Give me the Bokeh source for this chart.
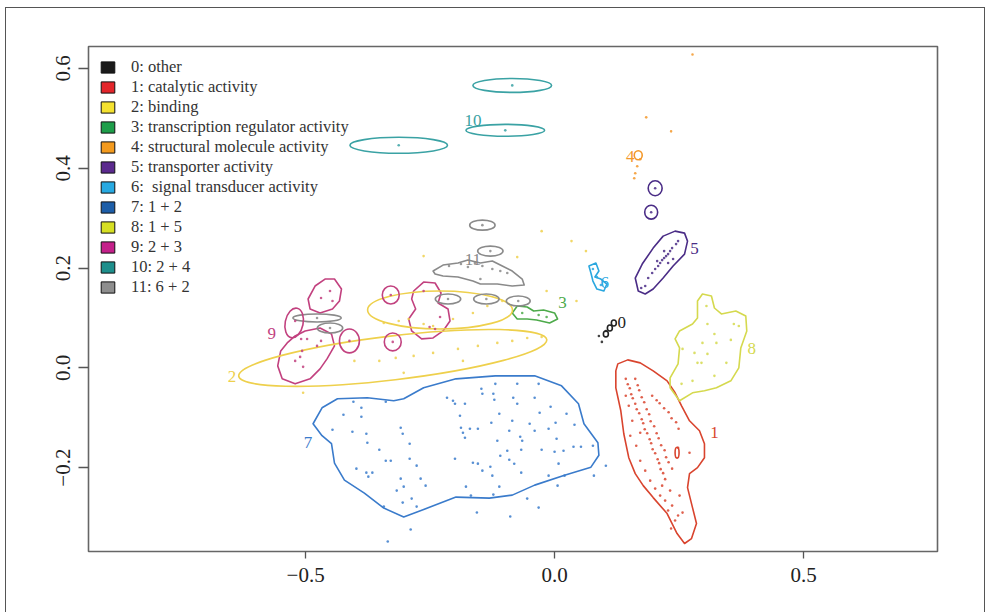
from bokeh.plotting import figure
from bokeh.models import Range1d, FixedTicker, Legend, LegendItem, ColumnDataSource, InlineStyleSheet
from bokeh.core.properties import value
from bokeh.embed import file_html
from bokeh.resources import INLINE

# ---------------- data ----------------
group_labels = ["0: other", "1: catalytic activity", "2: binding",
                "3: transcription regulator activity", "4: structural molecule activity",
                "5: transporter activity", "6:  signal transducer activity",
                "7: 1 + 2", "8: 1 + 5", "9: 2 + 3", "10: 2 + 4", "11: 6 + 2"]
legend_colors = ["#1a1a1a", "#e3262b", "#f4e12f", "#1e9e4a", "#f39a1e", "#5b2a8e",
                 "#27a9e1", "#1d5ea8", "#d6df23", "#c4208a", "#1e8f8c", "#8e8e8e"]
mark_colors = ["#222222", "#d9442e", "#eed04c", "#4daa4a", "#f3982a", "#4a2c86",
               "#2aa7df", "#3a7bcb", "#d5d94e", "#c2417f", "#3aa2a4", "#8a8a8a"]

x_ticks = [-0.5, 0.0, 0.5]
x_tick_labels = ["\u22120.5", "0.0", "0.5"]
y_ticks = [-0.2, 0.0, 0.2, 0.4, 0.6]
y_tick_labels = ["\u22120.2", "0.0", "0.2", "0.4", "0.6"]

# points per group
g0_x = [0.089, 0.095, 0.103]
g0_y = [0.064, 0.052, 0.074]
g1_x = [0.143, 0.147, 0.151, 0.154, 0.157, 0.162, 0.165, 0.170, 0.175, 0.178, 0.181, 0.186, 0.191, 0.194, 0.197, 0.202, 0.207, 0.210, 0.213, 0.218, 0.222,
        0.162, 0.167, 0.170, 0.175, 0.180, 0.185, 0.190, 0.193, 0.200, 0.205, 0.209, 0.214, 0.221, 0.224, 0.229, 0.236,
        0.196, 0.205, 0.211, 0.220, 0.229, 0.235, 0.244, 0.249,
        0.149, 0.156, 0.152, 0.164, 0.172, 0.182, 0.192, 0.202, 0.212, 0.222, 0.228, 0.236, 0.242, 0.248, 0.234, 0.257, 0.251, 0.232, 0.216, 0.271, 0.248, 0.172, 0.143]
g1_y = [-0.022, -0.033, -0.041, -0.053, -0.061, -0.072, -0.083, -0.091, -0.103, -0.111, -0.123, -0.131, -0.143, -0.151, -0.163, -0.171, -0.183, -0.191, -0.203, -0.211, -0.223,
        -0.022, -0.035, -0.045, -0.059, -0.069, -0.083, -0.093, -0.107, -0.117, -0.131, -0.141, -0.155, -0.165, -0.179, -0.189, -0.202,
        -0.056, -0.065, -0.071, -0.081, -0.089, -0.101, -0.109, -0.122,
        -0.076, -0.106, -0.136, -0.156, -0.186, -0.206, -0.226, -0.242, -0.256, -0.266, -0.286, -0.276, -0.306, -0.296, -0.322, -0.290, -0.256, -0.246, -0.236, -0.170, -0.160, -0.130, -0.056]
g2_x = [-0.343, -0.313, -0.293, -0.263, -0.244, -0.204, -0.164, -0.135, -0.105, -0.352, -0.319, -0.283, -0.244, -0.194, -0.154, -0.115,
        -0.085, -0.055, -0.026, -0.303, -0.402, -0.505, -0.263, -0.075, -0.026, 0.034, 0.063, -0.016, 0.044, -0.184]
g2_y = [0.090, 0.094, 0.098, 0.088, 0.084, 0.098, 0.110, 0.124, 0.134, 0.014, 0.020, 0.024, 0.030, 0.038, 0.044, 0.050,
        0.054, 0.060, 0.062, -0.010, 0.014, -0.050, 0.224, 0.222, 0.274, 0.254, 0.234, 0.154, 0.134, 0.014]
g3_x = [-0.065, -0.032, -0.016]
g3_y = [0.110, 0.106, 0.102]
g4_x = [0.277, 0.184, 0.234, 0.172, 0.166, 0.162, 0.160]
g4_y = [0.628, 0.502, 0.474, 0.418, 0.404, 0.390, 0.380]
g5_x = [0.188, 0.196, 0.202, 0.208, 0.212, 0.216, 0.220, 0.224, 0.228, 0.232, 0.236, 0.244, 0.248, 0.182, 0.174, 0.220, 0.238, 0.206, 0.228, 0.202, 0.194]
g5_y = [0.180, 0.190, 0.198, 0.204, 0.210, 0.216, 0.220, 0.224, 0.228, 0.234, 0.240, 0.248, 0.254, 0.164, 0.160, 0.234, 0.218, 0.214, 0.210, 0.360, 0.312]
g6_x = [0.077, 0.085, 0.093]
g6_y = [0.198, 0.182, 0.166]
g7_x = [-0.404, -0.424, -0.388, -0.388, -0.446, -0.406, -0.378, -0.376, -0.352, -0.339, -0.309, -0.305, -0.291, -0.339, -0.329, -0.291,
        -0.277, -0.398, -0.378, -0.366, -0.374, -0.309, -0.269, -0.259, -0.303, -0.317, -0.287, -0.305, -0.277, -0.343, -0.289, -0.335,
        -0.216, -0.204, -0.200, -0.180, -0.147, -0.145, -0.123, -0.121, -0.119, -0.075, -0.032, -0.083, -0.075, -0.040, -0.008, 0.024,
        -0.111, -0.085, -0.050, -0.030, 0.002, 0.040, -0.190, -0.188, -0.184, -0.180, -0.170, -0.154, -0.127, -0.091, -0.069, -0.065,
        -0.040, -0.012, 0.004, -0.115, -0.095, -0.067, -0.026, 0.000, 0.018, 0.038, 0.053, 0.077, -0.109, -0.091, -0.081, -0.067,
        0.008, -0.012, 0.020, 0.079, 0.103, 0.006, -0.055, -0.032, -0.089, -0.156, -0.168, -0.178, -0.145, -0.129, -0.125, -0.111,
        -0.123, -0.200, -0.164, -0.154]
g7_y = [-0.068, -0.094, -0.080, -0.098, -0.124, -0.128, -0.132, -0.150, -0.164, -0.068, -0.120, -0.132, -0.152, -0.186, -0.186, -0.182,
        -0.196, -0.202, -0.210, -0.210, -0.218, -0.222, -0.222, -0.236, -0.238, -0.246, -0.262, -0.270, -0.278, -0.278, -0.324, -0.348,
        -0.060, -0.066, -0.072, -0.072, -0.042, -0.052, -0.052, -0.064, -0.032, -0.032, -0.032, -0.060, -0.072, -0.060, -0.078, -0.092,
        -0.092, -0.106, -0.112, -0.090, -0.110, -0.114, -0.096, -0.120, -0.130, -0.140, -0.122, -0.122, -0.110, -0.126, -0.138, -0.146,
        -0.126, -0.122, -0.142, -0.146, -0.166, -0.164, -0.164, -0.168, -0.166, -0.158, -0.158, -0.156, -0.176, -0.184, -0.192, -0.210,
        -0.192, -0.216, -0.216, -0.216, -0.196, -0.236, -0.262, -0.280, -0.298, -0.290, -0.256, -0.238, -0.206, -0.198, -0.216, -0.238,
        -0.254, -0.182, -0.190, -0.192]
g8_x = [0.305, 0.307, 0.360, 0.370, 0.321, 0.297, 0.325, 0.354, 0.257, 0.281, 0.307, 0.287, 0.295, 0.345, 0.277, 0.321, 0.255]
g8_y = [0.124, 0.088, 0.088, 0.084, 0.068, 0.050, 0.050, 0.056, 0.038, 0.030, 0.028, 0.010, 0.010, 0.010, -0.026, -0.016, -0.032]
g9_x = [-0.451, -0.446, -0.469, -0.521, -0.509, -0.497, -0.507, -0.511, -0.521, -0.505, -0.477, -0.469, -0.412, -0.329, -0.325, -0.263, -0.251, -0.240, -0.230]
g9_y = [0.154, 0.134, 0.140, 0.094, 0.058, 0.058, 0.034, 0.022, 0.014, 0.002, 0.044, 0.054, 0.054, 0.146, 0.052, 0.154, 0.082, 0.078, 0.102]
g10_x = [-0.085, -0.099, -0.313]
g10_y = [0.566, 0.476, 0.446]
g11_x = [-0.212, -0.188, -0.174, -0.160, -0.145, -0.125, -0.109, -0.095, -0.149, -0.145, -0.129, -0.214, -0.137, -0.073, -0.477, -0.451]
g11_y = [0.204, 0.208, 0.202, 0.210, 0.204, 0.198, 0.194, 0.190, 0.178, 0.286, 0.234, 0.138, 0.138, 0.134, 0.100, 0.080]

# irregular contour outlines
c7_x = [-0.485, -0.467, -0.436, -0.376, -0.323, -0.303, -0.263, -0.198, -0.119, -0.040, 0.014, 0.048, 0.059, 0.087, 0.089, 0.073,
        0.020, -0.040, -0.085, -0.131, -0.198, -0.250, -0.303, -0.343, -0.382, -0.422, -0.442, -0.448, -0.467]
c7_y = [-0.112, -0.080, -0.062, -0.060, -0.066, -0.062, -0.040, -0.022, -0.016, -0.016, -0.036, -0.072, -0.112, -0.150, -0.175, -0.199,
        -0.215, -0.235, -0.255, -0.261, -0.259, -0.279, -0.299, -0.281, -0.251, -0.225, -0.191, -0.152, -0.136]
c1_x = [0.127, 0.147, 0.172, 0.198, 0.226, 0.242, 0.255, 0.271, 0.291, 0.301, 0.301, 0.287, 0.271, 0.267, 0.277, 0.285, 0.275, 0.261,
        0.246, 0.226, 0.198, 0.178, 0.162, 0.149, 0.139, 0.133, 0.123, 0.123]
c1_y = [0.008, 0.016, 0.010, -0.006, -0.026, -0.050, -0.076, -0.106, -0.126, -0.152, -0.180, -0.200, -0.212, -0.240, -0.280, -0.312, -0.342, -0.352,
        -0.332, -0.292, -0.260, -0.236, -0.212, -0.180, -0.132, -0.086, -0.040, -0.006]
c8_x = [0.297, 0.315, 0.321, 0.335, 0.364, 0.384, 0.386, 0.374, 0.370, 0.354, 0.325, 0.301, 0.277, 0.251, 0.232, 0.232, 0.248, 0.251, 0.242, 0.251, 0.277, 0.287, 0.287]
c8_y = [0.148, 0.144, 0.120, 0.108, 0.114, 0.104, 0.074, 0.040, 0.000, -0.026, -0.040, -0.046, -0.050, -0.066, -0.040, -0.020, 0.008, 0.040, 0.058, 0.074, 0.088, 0.100, 0.134]
c5_x = [0.168, 0.162, 0.176, 0.198, 0.218, 0.242, 0.261, 0.267, 0.261, 0.238, 0.218, 0.198, 0.182]
c5_y = [0.154, 0.180, 0.208, 0.240, 0.264, 0.274, 0.270, 0.254, 0.228, 0.204, 0.180, 0.158, 0.148]
c6_x = [0.069, 0.083, 0.089, 0.081, 0.093, 0.105, 0.099, 0.085, 0.077, 0.073]
c6_y = [0.204, 0.210, 0.194, 0.182, 0.178, 0.168, 0.154, 0.158, 0.174, 0.190]
c3_x = [-0.085, -0.075, -0.055, -0.042, -0.022, 0.000, 0.006, -0.010, -0.036, -0.055, -0.075]
c3_y = [0.110, 0.124, 0.122, 0.114, 0.116, 0.110, 0.098, 0.090, 0.096, 0.098, 0.098]
c11_x = [-0.244, -0.224, -0.194, -0.174, -0.149, -0.125, -0.105, -0.085, -0.065, -0.061, -0.085, -0.115, -0.149, -0.164, -0.194, -0.224, -0.240]
c11_y = [0.194, 0.206, 0.210, 0.216, 0.210, 0.214, 0.204, 0.194, 0.178, 0.166, 0.164, 0.168, 0.168, 0.174, 0.182, 0.184, 0.188]
c9a_x = [-0.481, -0.461, -0.442, -0.428, -0.432, -0.446, -0.471, -0.491, -0.495]
c9a_y = [0.164, 0.178, 0.178, 0.158, 0.134, 0.118, 0.110, 0.118, 0.138]
c9b_x = [-0.521, -0.501, -0.471, -0.448, -0.442, -0.457, -0.471, -0.491, -0.521, -0.547, -0.556, -0.550, -0.537]
c9b_y = [0.064, 0.074, 0.080, 0.068, 0.044, 0.018, -0.002, -0.022, -0.032, -0.022, 0.004, 0.034, 0.050]
c9c_x = [-0.283, -0.263, -0.240, -0.228, -0.234, -0.214, -0.210, -0.224, -0.244, -0.267, -0.287, -0.293, -0.279, -0.287]
c9c_y = [0.154, 0.172, 0.170, 0.150, 0.130, 0.118, 0.094, 0.074, 0.060, 0.058, 0.074, 0.098, 0.118, 0.138]

# elliptical contour outlines
ell_group = [2, 2, 10, 10, 10, 11, 11, 11, 11, 11, 11, 11, 9, 9, 9, 9, 5, 5, 4, 0, 0, 0, 1]
ell_x = [-0.230, -0.325, -0.085, -0.099, -0.313, -0.145, -0.129, -0.214, -0.137, -0.073, -0.477, -0.451,
         -0.523, -0.412, -0.329, -0.325, 0.202, 0.194, 0.168, 0.103, 0.111, 0.119, 0.246]
ell_y = [0.116, 0.020, 0.566, 0.476, 0.446, 0.286, 0.234, 0.138, 0.138, 0.134, 0.100, 0.080,
         0.090, 0.054, 0.146, 0.052, 0.360, 0.312, 0.426, 0.068, 0.080, 0.090, -0.170]
ell_w = [0.291, 0.623, 0.158, 0.158, 0.196, 0.051, 0.051, 0.051, 0.051, 0.048, 0.097, 0.051,
         0.036, 0.040, 0.034, 0.034, 0.028, 0.026, 0.016, 0.010, 0.010, 0.010, 0.008]
ell_h = [0.076, 0.088, 0.028, 0.024, 0.032, 0.020, 0.020, 0.020, 0.020, 0.020, 0.016, 0.020,
         0.060, 0.048, 0.036, 0.036, 0.030, 0.028, 0.018, 0.012, 0.012, 0.012, 0.022]
ell_angle = [0.0, 0.118, 0.0, 0.0, 0.0, 0.0, 0.0, 0.0, 0.0, 0.0, 0.0, 0.0,
             -0.2, 0.0, 0.0, 0.0, 0.0, 0.0, 0.0, 0.0, 0.0, 0.0, 0.0]

# contour labels
cl_text = ["0", "1", "2", "3", "4", "5", "6", "7", "8", "9", "10", "11"]
cl_x = [0.135, 0.321, -0.648, 0.016, 0.152, 0.281, 0.101, -0.495, 0.396, -0.568, -0.164, -0.164]
cl_y = [0.090, -0.130, -0.018, 0.130, 0.424, 0.240, 0.172, -0.150, 0.038, 0.068, 0.496, 0.218]

# ---------------- figure ----------------
SERIF = "Liberation Serif"
p = figure(width=973, height=598, output_backend="svg", toolbar_location=None,
           x_range=Range1d(-0.936, 0.769), y_range=Range1d(-0.368, 0.644),
           min_border_left=88, min_border_right=36, min_border_top=46, min_border_bottom=47)
# outer page frame (left, top, right sides) drawn by CSS, outside the chart layout
p.stylesheets = [InlineStyleSheet(css=(
    ":host::after{content:'';position:absolute;left:5px;top:7px;right:-12px;bottom:-14px;"
    "border-left:1px solid #555;border-top:1px solid #555;border-right:1px solid #555;"
    "pointer-events:none;}"))]
p.grid.visible = False
p.background_fill_color = "white"
p.border_fill_color = "white"
p.outline_line_color = "#666666"
p.outline_line_width = 1.6

for ax, ticks, labels, tick_out in [(p.xaxis[0], x_ticks, x_tick_labels, 7), (p.yaxis[0], y_ticks, y_tick_labels, 10)]:
    ax.ticker = FixedTicker(ticks=ticks)
    ax.major_label_overrides = {t: l for t, l in zip(ticks, labels)}
    ax.axis_line_color = None
    ax.major_tick_line_color = "#555555"
    ax.major_tick_line_width = 1.3
    ax.major_tick_in = 0
    ax.major_tick_out = tick_out
    ax.minor_tick_line_color = None
    ax.major_label_text_font = SERIF
    ax.major_label_text_font_size = "21px"
    ax.major_label_text_color = "#222222"
p.xaxis.major_label_standoff = 9
p.yaxis.major_label_standoff = 8
p.yaxis.major_label_orientation = "vertical"

# contours: irregular outlines
patch_groups = [7, 1, 8, 5, 6, 3, 11, 9, 9, 9]
patch_xs = [c7_x, c1_x, c8_x, c5_x, c6_x, c3_x, c11_x, c9a_x, c9b_x, c9c_x]
patch_ys = [c7_y, c1_y, c8_y, c5_y, c6_y, c3_y, c11_y, c9a_y, c9b_y, c9c_y]
p.patches(xs=patch_xs, ys=patch_ys, fill_color=None,
          line_color=[mark_colors[g] for g in patch_groups], line_width=1.6, line_join="round")

# contours: elliptical outlines
esrc = ColumnDataSource(dict(x=ell_x, y=ell_y, w=ell_w, h=ell_h, a=ell_angle,
                             c=[mark_colors[g] for g in ell_group]))
p.ellipse(x="x", y="y", width="w", height="h", angle="a", source=esrc,
          fill_color=None, line_color="c", line_width=1.6)

# points
point_sets = [(g0_x, g0_y), (g1_x, g1_y), (g2_x, g2_y), (g3_x, g3_y), (g4_x, g4_y), (g5_x, g5_y),
              (g6_x, g6_y), (g7_x, g7_y), (g8_x, g8_y), (g9_x, g9_y), (g10_x, g10_y), (g11_x, g11_y)]
for gi, (xs, ys) in enumerate(point_sets):
    p.scatter(xs, ys, marker="circle", size=2.6, fill_color=mark_colors[gi],
              line_color=None, fill_alpha=0.85)

# contour labels
p.text(x=cl_x, y=cl_y, text=cl_text, text_color=mark_colors,
       text_font=value(SERIF), text_font_size="17px", text_align="center", text_baseline="middle")

# legend: swatch renderers hold no visible data (NaN), only feed the legend
nan = float("nan")
items = []
for lab, col in zip(group_labels, legend_colors):
    r = p.quad(left=[nan], right=[nan], top=[nan], bottom=[nan],
               fill_color=col, line_color="#111111", line_width=1)
    items.append(LegendItem(label=lab, renderers=[r]))
legend = Legend(items=items, location="top_left", margin=11, padding=0,
                background_fill_alpha=0, border_line_color=None,
                glyph_width=17, glyph_height=14, label_height=20, spacing=0, label_standoff=15,
                label_text_font=SERIF, label_text_font_size="16.5px", label_text_color="#333333")
p.add_layout(legend)

open("out.html", "w").write(file_html(p, INLINE))
